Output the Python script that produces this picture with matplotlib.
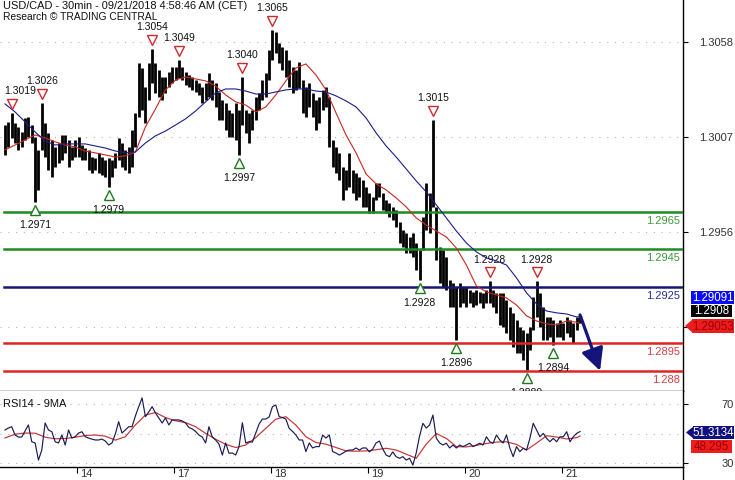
import matplotlib
matplotlib.use("Agg")
import matplotlib.pyplot as plt
from matplotlib.patches import Rectangle, Polygon
from matplotlib.transforms import offset_copy, ScaledTranslation
from matplotlib.lines import Line2D
import numpy as np

plt.rcParams['font.family'] = ['Liberation Sans', 'DejaVu Sans']

TITLE1 = "USD/CAD - 30min - 09/21/2018 4:58:46 AM (CET)"
TITLE2 = "Research \u00a9 TRADING CENTRAL"

# ── price bars (high / low) ───────────────────────────────────────────────
highs = [
    1.30115, 1.30132, 1.30180, 1.30126, 1.30105, 1.30078, 1.30153, 1.30158, 1.30115, 1.30051,
    1.29982, 1.30233, 1.30126, 1.30073, 1.30035, 1.29998, 1.30019, 1.30062, 1.30062, 1.30035,
    1.29998, 1.30035, 1.30051, 1.30008, 1.29992, 1.29982, 1.29944, 1.29939, 1.29966, 1.29944,
    1.29928, 1.29939, 1.29928, 1.29966, 1.30046, 1.30019, 1.29982, 1.29998, 1.30089, 1.30180,
    1.30447, 1.30420, 1.30319, 1.30447, 1.30522, 1.30447, 1.30410, 1.30372, 1.30372, 1.30399,
    1.30426, 1.30426, 1.30463, 1.30426, 1.30399, 1.30383, 1.30372, 1.30356, 1.30340, 1.30319,
    1.30340, 1.30394, 1.30356, 1.30340, 1.30292, 1.30249, 1.30233, 1.30196, 1.30180, 1.30233,
    1.30196, 1.30372, 1.30196, 1.30180, 1.30196, 1.30265, 1.30287, 1.30356, 1.30394, 1.30517,
    1.30624, 1.30613, 1.30554, 1.30533, 1.30517, 1.30463, 1.30426, 1.30410, 1.30453, 1.30356,
    1.30319, 1.30340, 1.30287, 1.30249, 1.30265, 1.30303, 1.30319, 1.30265, 1.30035, 1.29998,
    1.29966, 1.29891, 1.29875, 1.29966, 1.29875, 1.29859, 1.29837, 1.29821, 1.29784, 1.29752,
    1.29730, 1.29805, 1.29805, 1.29752, 1.29714, 1.29698, 1.29677, 1.29661, 1.29597, 1.29554,
    1.29538, 1.29516, 1.29538, 1.29484, 1.29447, 1.29623, 1.29805, 1.29752, 1.30142, 1.29677,
    1.29463, 1.29447, 1.29409, 1.29286, 1.29270, 1.29249, 1.29270, 1.29249, 1.29249, 1.29233,
    1.29222, 1.29233, 1.29222, 1.29217, 1.29233, 1.29280, 1.29233, 1.29217, 1.29217, 1.29217,
    1.29179, 1.29142, 1.29110, 1.29072, 1.29035, 1.29019, 1.29003, 1.29035, 1.29195, 1.29280,
    1.29217, 1.29142, 1.29088, 1.29088, 1.29072, 1.29056, 1.29072, 1.29056, 1.29088, 1.29072,
    1.29056, 1.29088, 1.29099,
]
lows = [
    1.29955, 1.29998, 1.30046, 1.30019, 1.29982, 1.29998, 1.30035, 1.30051, 1.30019, 1.29704,
    1.29768, 1.29982, 1.29944, 1.29875, 1.29837, 1.29891, 1.29912, 1.29928, 1.29966, 1.29891,
    1.29928, 1.29944, 1.29944, 1.29928, 1.29928, 1.29875, 1.29859, 1.29875, 1.29859, 1.29848,
    1.29837, 1.29784, 1.29837, 1.29885, 1.29928, 1.29891, 1.29875, 1.29859, 1.29891, 1.29998,
    1.30158, 1.30196, 1.30126, 1.30249, 1.30340, 1.30287, 1.30265, 1.30249, 1.30287, 1.30319,
    1.30340, 1.30356, 1.30367, 1.30356, 1.30330, 1.30319, 1.30303, 1.30292, 1.30276, 1.30233,
    1.30249, 1.30265, 1.30249, 1.30212, 1.30142, 1.30142, 1.30089, 1.30051, 1.30051, 1.30035,
    1.29955, 1.30115, 1.30073, 1.30019, 1.30089, 1.30142, 1.30196, 1.30249, 1.30265, 1.30356,
    1.30463, 1.30501, 1.30447, 1.30410, 1.30372, 1.30319, 1.30287, 1.30303, 1.30313, 1.30180,
    1.30158, 1.30212, 1.30158, 1.30089, 1.30126, 1.30196, 1.30212, 1.29998, 1.29891, 1.29859,
    1.29821, 1.29714, 1.29768, 1.29784, 1.29752, 1.29714, 1.29730, 1.29677, 1.29677, 1.29645,
    1.29645, 1.29714, 1.29730, 1.29661, 1.29645, 1.29623, 1.29607, 1.29570, 1.29484, 1.29463,
    1.29431, 1.29431, 1.29409, 1.29340, 1.29286, 1.29447, 1.29554, 1.29538, 1.29677, 1.29393,
    1.29270, 1.29249, 1.29233, 1.29142, 1.29142, 1.28965, 1.29142, 1.29163, 1.29142, 1.29163,
    1.29142, 1.29152, 1.29163, 1.29136, 1.29163, 1.29163, 1.29142, 1.29110, 1.29045, 1.29035,
    1.29003, 1.28965, 1.28928, 1.28896, 1.28896, 1.28858, 1.28805, 1.28912, 1.29019, 1.29088,
    1.29035, 1.28965, 1.28965, 1.28981, 1.28938, 1.28981, 1.28981, 1.28965, 1.29003, 1.28981,
    1.28949, 1.29019, 1.29056,
]
last_price = 1.2908

# moving averages, sampled every 3rd bar (+ last bar)
ma_fast = [
    1.29982, 1.30008, 1.30035, 1.30062, 1.30046, 1.30025, 1.30008, 1.29998, 1.29976, 1.29966,
    1.29955, 1.29944, 1.29950, 1.29971, 1.30105, 1.30201, 1.30303, 1.30356, 1.30372, 1.30362,
    1.30351, 1.30324, 1.30276, 1.30239, 1.30222, 1.30185, 1.30212, 1.30276, 1.30351, 1.30420,
    1.30442, 1.30383, 1.30303, 1.30180, 1.30062, 1.29966, 1.29853, 1.29800, 1.29768, 1.29725,
    1.29677, 1.29618, 1.29580, 1.29548, 1.29516, 1.29457, 1.29366, 1.29254, 1.29222, 1.29206,
    1.29190, 1.29152, 1.29094, 1.29067, 1.29051, 1.29045, 1.29067, 1.29060, 1.29053,
]
ma_slow = [
    1.30228, 1.30185, 1.30132, 1.30078, 1.30030, 1.30008, 1.30014, 1.30014, 1.30014, 1.30003,
    1.29992, 1.29976, 1.29966, 1.29971, 1.30019, 1.30057, 1.30083, 1.30115, 1.30148, 1.30190,
    1.30239, 1.30287, 1.30308, 1.30308, 1.30297, 1.30281, 1.30281, 1.30292, 1.30303, 1.30308,
    1.30308, 1.30297, 1.30292, 1.30271, 1.30244, 1.30212, 1.30153, 1.30073, 1.30003, 1.29944,
    1.29880, 1.29816, 1.29757, 1.29688, 1.29618, 1.29548, 1.29484, 1.29436, 1.29404, 1.29388,
    1.29366, 1.29297, 1.29217, 1.29158, 1.29120, 1.29110, 1.29104, 1.29088, 1.29091,
]

# RSI14 per bar and its 9MA (sampled like the price MAs)
rsi = [
    52.4, 53.7, 54.6, 49.0, 47.6, 47.6, 51.7, 55.8, 44.4, 43.6,
    32.0, 38.8, 57.1, 52.4, 51.2, 44.4, 43.6, 49.0, 42.2, 52.4,
    46.9, 47.8, 50.3, 51.2, 47.8, 46.9, 46.2, 45.6, 45.6, 46.2,
    44.9, 42.2, 43.6, 49.7, 58.0, 50.3, 52.4, 54.6, 54.6, 61.9,
    68.2, 74.1, 61.4, 64.6, 68.2, 63.9, 60.5, 57.1, 60.5, 55.8,
    59.2, 59.2, 59.2, 58.5, 57.1, 54.1, 53.1, 51.4, 49.0, 47.6,
    43.6, 54.6, 47.6, 45.6, 42.9, 35.4, 43.6, 36.6, 36.8, 35.4,
    41.1, 57.3, 43.6, 44.4, 44.2, 50.3, 56.4, 59.8, 59.8, 61.2,
    68.2, 69.3, 61.4, 60.8, 59.8, 53.5, 51.4, 49.0, 45.6, 45.6,
    37.7, 43.6, 40.2, 41.1, 41.1, 49.0, 46.9, 49.0, 37.7, 36.8,
    35.4, 36.6, 38.1, 38.8, 38.8, 40.2, 38.8, 40.2, 40.2, 37.5,
    39.5, 43.6, 44.9, 39.5, 35.4, 34.3, 37.5, 34.3, 33.2, 34.3,
    32.0, 33.2, 28.6, 36.8, 48.3, 56.9, 53.7, 55.8, 62.5, 46.9,
    43.6, 42.2, 43.4, 40.2, 42.2, 40.2, 42.2, 41.1, 42.2, 43.4,
    41.1, 42.2, 43.4, 42.2, 47.8, 44.4, 43.4, 49.0, 45.6, 43.6,
    49.0, 40.2, 34.3, 41.1, 37.7, 40.0, 38.8, 46.7, 56.9, 52.4,
    47.8, 50.1, 46.7, 44.4, 46.7, 44.4, 47.8, 47.8, 51.2, 44.4,
    47.8, 50.1, 51.3134,
]
rsi_ma = [
    47.0, 49.5, 50.3, 50.2, 47.5, 46.4, 46.6, 47.5, 48.6, 49.0,
    48.2, 45.5, 47.8, 55.8, 62.5, 64.2, 60.8, 58.6, 57.4, 54.6,
    50.1, 46.1, 42.7, 40.5, 42.2, 47.2, 53.5, 59.7, 61.4, 55.7,
    47.8, 43.9, 42.8, 40.5, 38.2, 38.0, 38.2, 39.0, 40.0, 38.8,
    36.0, 33.2, 42.8, 50.0, 46.7, 41.1, 40.9, 42.0, 43.2, 44.2,
    44.4, 42.6, 38.8, 43.5, 48.5, 47.6, 46.3, 47.2, 48.295,
]

# pivots: bar index + printed label
hi_idx = [2, 11, 44, 52, 71, 80, 128, 145, 159]
hi_txt = ['1.3019', '1.3026', '1.3054', '1.3049', '1.3040', '1.3065', '1.3015', '1.2928', '1.2928']
lo_idx = [9, 31, 70, 124, 135, 156, 164]
lo_txt = ['1.2971', '1.2979', '1.2997', '1.2928', '1.2896', '1.2880', '1.2894']

# support / resistance levels
res_levels = [1.2965, 1.2945]
pivot_level = 1.2925
sup_levels = [1.2895, 1.2880]
level_txt = {1.2965: '1.2965', 1.2945: '1.2945', 1.2925: '1.2925', 1.2895: '1.2895', 1.2880: '1.288'}

forecast_bars = 6
forecast_target = 1.2880

day_ticks = [21.5, 50.5, 79.6, 108.6, 137.6, 166.6]
day_labels = ['14', '17', '18', '19', '20', '21']
price_ticks = [1.30560, 1.30051, 1.29543, 1.29035]
price_tick_labels = ['1.3058', '1.3007', '1.2956', '']

GREEN, NAVY, RED = '#1f8a24', '#16167a', '#e02424'


def fx(px):
    return px / 735.0


def fy(py):
    return 1.0 - py / 480.0


def main():
    bar_x = np.arange(len(highs))
    ma_x = np.r_[np.arange(0, len(highs) - 1, 3), len(highs) - 1]

    fig = plt.figure(figsize=(7.35, 4.8), dpi=100)
    ax = fig.add_axes([0, fy(391), fx(683), fy(0) - fy(391)])
    rx = fig.add_axes([0, fy(467), fx(683), fy(391) - fy(467)], sharex=ax)

    # ── main price panel ─────────────────────────────────────────────────
    for t in price_ticks:
        ax.axhline(t, color='#b5b5b5', lw=0.8, ls=(0, (1, 6)), zorder=0)
    ax.vlines(bar_x, lows, highs, colors='black', lw=2.0, zorder=2)
    ax.plot(ma_x, ma_fast, color='#c8281e', lw=0.8, zorder=4)
    ax.plot(ma_x, ma_slow, color='#1c1c8a', lw=0.8, zorder=4)

    for lv in res_levels:
        ax.axhline(lv, xmin=0.006, color=GREEN, lw=1.8, zorder=3)
        ax.annotate(level_txt[lv], xy=(1, lv), xycoords=('axes fraction', 'data'),
                    xytext=(-2, -6.5), textcoords='offset points', ha='right', va='center',
                    fontsize=8, color='#3a9a3a')
    ax.axhline(pivot_level, xmin=0.006, color=NAVY, lw=1.8, zorder=3)
    ax.annotate(level_txt[pivot_level], xy=(1, pivot_level), xycoords=('axes fraction', 'data'),
                xytext=(-2, -6.5), textcoords='offset points', ha='right', va='center',
                fontsize=8, color='#2c2ca0')
    for lv in sup_levels:
        ax.axhline(lv, xmin=0.006, color=RED, lw=1.8, zorder=3)
        ax.annotate(level_txt[lv], xy=(1, lv), xycoords=('axes fraction', 'data'),
                    xytext=(-2, -6.5), textcoords='offset points', ha='right', va='center',
                    fontsize=8, color='#d04040')

    # pivot markers
    up_tr = offset_copy(ax.transData, fig=fig, x=0, y=6.5, units='points')
    dn_tr = offset_copy(ax.transData, fig=fig, x=0, y=-6, units='points')
    for i, t in zip(hi_idx, hi_txt):
        ax.plot(i, highs[i], marker='v', ms=7.5, mfc='white', mec='#cc2a2a', mew=1.0,
                transform=up_tr, zorder=6)
        dx = 6 if i < 5 else 0   # first label is nudged right in the original
        ax.annotate(t, xy=(i, highs[i]), xytext=(dx, 15.5), textcoords='offset points',
                    ha='center', va='center', fontsize=7.5, color='#111')
    for i, t in zip(lo_idx, lo_txt):
        ax.plot(i, lows[i], marker='^', ms=7.5, mfc='white', mec='#1f7a1f', mew=1.0,
                transform=dn_tr, zorder=6)
        a = ax.annotate(t, xy=(i, lows[i]), xytext=(0, -16.5), textcoords='offset points',
                        ha='center', va='center', fontsize=7.5, color='#111')
        a.set_clip_on(True)

    # expected path
    n = len(highs) - 1
    ax.annotate('', xy=(n + forecast_bars, forecast_target), xytext=(n, highs[-1]),
                arrowprops=dict(arrowstyle='-|>,head_length=0.9,head_width=0.45',
                                color='#14147a', lw=2.3, mutation_scale=15,
                                shrinkA=0, shrinkB=0), zorder=7)

    ax.set_xlim(-1.5, 202.8)
    ax.set_ylim(1.28692, 1.30784)
    ax.set_yticks(price_ticks)
    ax.set_yticklabels(price_tick_labels)
    ax.yaxis.tick_right()
    ax.tick_params(axis='y', direction='out', length=3.5, width=0.8, pad=8,
                   labelsize=8, labelcolor='#333')
    ax.tick_params(axis='x', bottom=False, labelbottom=False)
    for s in ['left', 'top']:
        ax.spines[s].set_visible(False)
    for s in ['right', 'bottom']:
        ax.spines[s].set_color('black')
        ax.spines[s].set_linewidth(1.0)

    # ── RSI panel ────────────────────────────────────────────────────────
    for g in [70, 50, 30]:
        rx.axhline(g, color='#b5b5b5', lw=0.8, ls=(0, (1, 6)), zorder=0)
    rx.plot(bar_x, rsi, color='#1b1b55', lw=0.85, zorder=3)
    rx.plot(ma_x, rsi_ma, color='#c83232', lw=0.85, zorder=2)
    rx.text(0.004, 0.83, 'RSI14 - 9MA', transform=rx.transAxes, fontsize=8,
            color='#111', ha='left', va='center')
    rx.set_ylim(27.3, 78.8)
    rx.set_yticks([70, 30])
    rx.yaxis.tick_right()
    rx.tick_params(axis='y', direction='out', length=3.5, width=0.8, pad=24,
                   labelsize=8, labelcolor='#333')
    rx.set_xticks(day_ticks)
    rx.set_xticklabels(day_labels, ha='left')
    rx.tick_params(axis='x', direction='out', length=4, width=0.8, pad=-2.5,
                   labelsize=8, labelcolor='#333')
    shift = ScaledTranslation(3 / 100, 0, fig.dpi_scale_trans)
    for lbl in rx.get_xticklabels():
        lbl.set_transform(lbl.get_transform() + shift)
    for s in ['left', 'top']:
        rx.spines[s].set_visible(False)
    for s in ['right', 'bottom']:
        rx.spines[s].set_color('black')
        rx.spines[s].set_linewidth(1.0)
    fig.add_artist(Line2D([fx(683), fx(683)], [fy(467), 0], transform=fig.transFigure,
                          color='black', lw=1.0))

    # ── header ───────────────────────────────────────────────────────────
    fig.text(fx(3), fy(6), TITLE1, fontsize=7.9, color='#111', ha='left', va='center')
    fig.text(fx(3), fy(17.5), TITLE2, fontsize=7.4, color='#111', ha='left', va='center')

    # ── last-value badges ────────────────────────────────────────────────
    def badge(x0, y0, x1, y1, txt, fc, tc, arrow=False):
        fig.add_artist(Rectangle((fx(x0), fy(y1)), fx(x1) - fx(x0), fy(y0) - fy(y1),
                                 transform=fig.transFigure, fc=fc, ec='none', zorder=8))
        if arrow:
            ym = (y0 + y1) / 2
            fig.add_artist(Polygon([(fx(x0 - 7), fy(ym)), (fx(x0 + 1), fy(y0)),
                                    (fx(x0 + 1), fy(y1))], closed=True,
                                   transform=fig.transFigure, fc=fc, ec='none', zorder=8))
        fig.text(fx((x0 + x1) / 2), fy((y0 + y1) / 2 + 0.5), txt, color=tc, fontsize=8.3,
                 ha='center', va='center', zorder=9)

    badge(691, 291, 734, 304, f'{ma_slow[-1]:.5f}', '#0a0aff', 'white')
    badge(691, 305, 732, 317, f'{last_price:.4f}', 'black', 'white')
    badge(692, 319, 734, 333, f'{ma_fast[-1]:.5f}', '#ee1c1c', '#9a0000', arrow=True)
    badge(693, 426, 734, 439, f'{rsi[-1]:.4f}', '#10107e', 'white', arrow=True)
    badge(691, 440, 732, 453, f'{rsi_ma[-1]:.3f}', '#ee1c1c', '#9a0000')

    fig.savefig('out.png', dpi=100)


if __name__ == "__main__":
    main()
